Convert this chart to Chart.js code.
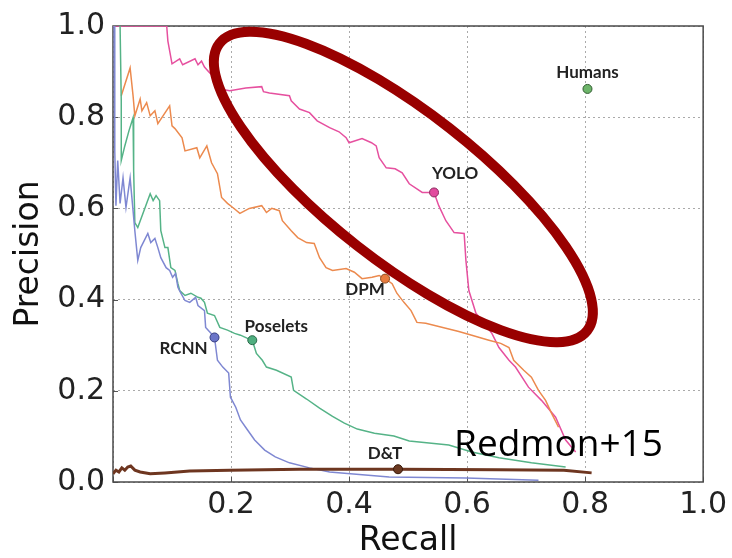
<!DOCTYPE html>
<html><head><meta charset="utf-8">
<script src="https://cdn.jsdelivr.net/npm/chart.js@4.4.0/dist/chart.umd.min.js"></script>
<style>html,body{margin:0;padding:0;background:#fff;}#wrap{width:732px;height:558px;}</style>
</head><body><div id="wrap"><canvas id="c" width="732" height="558"></canvas></div>
<script>
// ---- data (recall, precision) ----
const xTickLabels = ['', '0.2', '0.4', '0.6', '0.8', '1.0'];
const yTickLabels = ['0.0', '0.2', '0.4', '0.6', '0.8', '1.0'];

const yoloCurve = [[0.000,1.000],[0.091,1.000],[0.093,0.967],[0.100,0.917],[0.113,0.928],[0.118,0.915],[0.139,0.928],[0.144,0.915],[0.150,0.923],[0.155,0.910],[0.164,0.897],[0.171,0.888],[0.177,0.869],[0.188,0.860],[0.198,0.858],[0.225,0.864],[0.252,0.867],[0.255,0.856],[0.265,0.853],[0.299,0.847],[0.302,0.836],[0.316,0.818],[0.333,0.810],[0.346,0.792],[0.367,0.777],[0.383,0.768],[0.395,0.755],[0.400,0.744],[0.422,0.753],[0.438,0.744],[0.446,0.737],[0.451,0.711],[0.463,0.689],[0.478,0.687],[0.490,0.678],[0.502,0.654],[0.524,0.635],[0.544,0.635],[0.552,0.606],[0.564,0.573],[0.578,0.547],[0.595,0.545],[0.598,0.486],[0.603,0.420],[0.615,0.370],[0.625,0.354],[0.642,0.326],[0.654,0.295],[0.671,0.267],[0.682,0.252],[0.704,0.208],[0.726,0.179],[0.750,0.142],[0.767,0.092],[0.784,0.066]];

const dpmCurve = [[0.014,0.847],[0.029,0.908],[0.034,0.847],[0.037,0.803],[0.046,0.840],[0.049,0.814],[0.057,0.832],[0.063,0.803],[0.071,0.814],[0.076,0.786],[0.096,0.825],[0.100,0.781],[0.105,0.775],[0.117,0.755],[0.122,0.726],[0.142,0.733],[0.147,0.711],[0.159,0.737],[0.167,0.700],[0.177,0.676],[0.184,0.624],[0.194,0.611],[0.203,0.602],[0.215,0.589],[0.231,0.600],[0.252,0.606],[0.260,0.591],[0.269,0.600],[0.282,0.595],[0.287,0.573],[0.302,0.551],[0.313,0.536],[0.328,0.525],[0.341,0.523],[0.350,0.492],[0.361,0.470],[0.372,0.464],[0.395,0.468],[0.409,0.460],[0.422,0.446],[0.439,0.449],[0.451,0.453],[0.461,0.446],[0.473,0.435],[0.481,0.414],[0.493,0.394],[0.505,0.376],[0.515,0.350],[0.530,0.348],[0.552,0.341],[0.586,0.330],[0.608,0.322],[0.637,0.311],[0.657,0.304],[0.671,0.295],[0.679,0.267],[0.696,0.245],[0.709,0.230],[0.721,0.201],[0.733,0.179],[0.743,0.151],[0.755,0.120]];

const poseletsCurve = [[0.012,1.000],[0.014,0.836],[0.014,0.705],[0.020,0.737],[0.027,0.770],[0.034,0.799],[0.035,0.683],[0.037,0.569],[0.042,0.558],[0.063,0.632],[0.068,0.617],[0.073,0.628],[0.079,0.617],[0.081,0.551],[0.088,0.514],[0.093,0.514],[0.098,0.470],[0.105,0.464],[0.110,0.435],[0.113,0.420],[0.122,0.409],[0.132,0.414],[0.144,0.405],[0.149,0.403],[0.155,0.394],[0.160,0.370],[0.172,0.365],[0.181,0.339],[0.194,0.333],[0.206,0.326],[0.216,0.322],[0.228,0.315],[0.236,0.311],[0.243,0.282],[0.253,0.267],[0.260,0.252],[0.277,0.245],[0.302,0.230],[0.306,0.201],[0.328,0.182],[0.350,0.162],[0.372,0.144],[0.392,0.129],[0.414,0.116],[0.443,0.107],[0.476,0.101],[0.502,0.090],[0.569,0.081],[0.608,0.066],[0.654,0.053],[0.709,0.042],[0.767,0.033]];

const rcnnCurve = [[0.002,1.000],[0.003,0.726],[0.005,0.606],[0.008,0.705],[0.012,0.611],[0.017,0.667],[0.022,0.602],[0.029,0.667],[0.034,0.595],[0.037,0.551],[0.042,0.486],[0.047,0.514],[0.059,0.545],[0.064,0.525],[0.071,0.534],[0.076,0.514],[0.081,0.492],[0.090,0.470],[0.096,0.464],[0.101,0.449],[0.106,0.457],[0.110,0.427],[0.115,0.414],[0.122,0.398],[0.130,0.394],[0.140,0.405],[0.144,0.387],[0.155,0.376],[0.157,0.339],[0.166,0.326],[0.172,0.317],[0.177,0.267],[0.186,0.252],[0.196,0.239],[0.199,0.186],[0.208,0.164],[0.216,0.136],[0.228,0.114],[0.240,0.092],[0.257,0.070],[0.275,0.055],[0.299,0.042],[0.333,0.031],[0.367,0.022],[0.468,0.011],[0.598,0.009],[0.721,0.004]];

const dtCurve = [[0.000,0.018],[0.005,0.026],[0.010,0.022],[0.015,0.031],[0.020,0.026],[0.025,0.033],[0.030,0.035],[0.037,0.026],[0.046,0.022],[0.063,0.018],[0.088,0.020],[0.130,0.024],[0.198,0.026],[0.316,0.028],[0.483,0.028],[0.654,0.027],[0.764,0.026],[0.811,0.020]];

const markerNames = ['Humans', 'YOLO', 'DPM', 'Poselets', 'RCNN', 'D&T'];
const markerRecall = [0.804, 0.544, 0.461, 0.236, 0.172, 0.483];
const markerPrecision = [0.862, 0.635, 0.446, 0.311, 0.317, 0.028];

const ellipseCenter = [0.492, 0.647];
const noteText = 'Redmon+15';
const notePos = [0.578, 0.057];

// ---- styles ----
const markerFill = ['#6db56a', '#e24a9e', '#e87c3e', '#4fae7f', '#6a74c8', '#6b3a22'];
const markerEdge = ['#2e5a2e', '#8a2a5e', '#8a4a20', '#2a6a4a', '#353c80', '#3a1a0a'];
const labelOffset = [[0, -16], [21, -19], [-20, 11], [24, -14], [-31, 11], [-13, -16]];

const toPts = arr => arr.map(d => ({x: d[0], y: d[1]}));
const lineDS = (label, data, color, w) => ({
  label, data: toPts(data), showLine: true, borderColor: color, backgroundColor: color,
  borderWidth: w, pointRadius: 0, pointHoverRadius: 0, tension: 0, order: 2
});

const overlay = {
  id: 'overlay',
  beforeDatasetsDraw(chart) {
    const {ctx, chartArea: a, scales: {x, y}} = chart;
    ctx.save();
    ctx.strokeStyle = '#555'; ctx.lineWidth = 1;
    x.ticks.forEach(t => { const px = Math.round(x.getPixelForValue(t.value)) + 0.5;
      ctx.beginPath(); ctx.moveTo(px, a.bottom); ctx.lineTo(px, a.bottom - 5); ctx.stroke(); });
    y.ticks.forEach(t => { const py = Math.round(y.getPixelForValue(t.value)) + 0.5;
      ctx.beginPath(); ctx.moveTo(a.left, py); ctx.lineTo(a.left + 5, py); ctx.stroke(); });
    ctx.strokeStyle = '#4a4a4a'; ctx.lineWidth = 1.5;
    ctx.strokeRect(a.left, a.top, a.right - a.left, a.bottom - a.top);
    ctx.restore();
  },
  afterDraw(chart) {
    const {ctx, chartArea: a, scales: {x, y}} = chart;
    ctx.save();
    const meta = chart.getDatasetMeta(chart.data.datasets.length - 1);
    ctx.font = 'bold 17px Lato';
    ctx.fillStyle = '#222';
    ctx.textAlign = 'center'; ctx.textBaseline = 'middle';
    meta.data.forEach((el, i) => {
      ctx.fillText(markerNames[i], el.x + labelOffset[i][0], el.y + labelOffset[i][1]);
    });
    const k = (a.right - a.left) / 592;
    const cx = x.getPixelForValue(ellipseCenter[0]);
    const cy = y.getPixelForValue(ellipseCenter[1]);
    ctx.beginPath();
    ctx.ellipse(cx, cy, 234 * k, 75 * k, 38 * Math.PI / 180, 0, 2 * Math.PI);
    ctx.strokeStyle = '#990000'; ctx.lineWidth = 10; ctx.stroke();
    ctx.font = '37px "Open Sans"';
    ctx.fillStyle = '#000'; ctx.textAlign = 'left'; ctx.textBaseline = 'alphabetic';
    ctx.fillText(noteText, x.getPixelForValue(notePos[0]), y.getPixelForValue(notePos[1]));
    ctx.restore();
  }
};

new Chart(document.getElementById('c'), {
  type: 'scatter',
  data: {
    datasets: [
      lineDS('D&T', dtCurve, '#6e3620', 3),
      lineDS('RCNN', rcnnCurve, '#7f88d2', 1.5),
      lineDS('Poselets', poseletsCurve, '#55b387', 1.5),
      lineDS('DPM', dpmCurve, '#ec8a4e', 1.5),
      lineDS('YOLO', yoloCurve, '#e6509f', 1.5),
      {
        label: 'markers',
        data: markerRecall.map((r, i) => ({x: r, y: markerPrecision[i]})),
        pointRadius: 4.5, pointHoverRadius: 4.5, pointBorderWidth: 1,
        pointBackgroundColor: markerFill, pointBorderColor: markerEdge,
        showLine: false, order: 1, clip: false
      }
    ]
  },
  options: {
    responsive: false, animation: false, devicePixelRatio: 1,
    layout: {padding: {left: 0, right: 27, top: 25, bottom: 0}},
    plugins: {legend: {display: false}, tooltip: {enabled: false}},
    events: [],
    scales: {
      x: {
        type: 'linear', min: 0, max: 1,
        afterBuildTicks: s => { s.ticks = xTickLabels.map((_, i) => ({value: i * 0.2})); },
        afterFit: s => { s.height = 76; },
        ticks: {
          callback: (v, i) => xTickLabels[i],
          font: {family: 'DejaVu Sans', size: 30, lineHeight: 1.2}, color: '#222', padding: 5, maxRotation: 0
        },
        grid: {color: '#aaaaaa', lineWidth: 1, drawTicks: false},
        border: {display: false, dash: [2, 3]},
        title: {display: true, text: 'Recall', color: '#111',
          font: {family: 'DejaVu Sans', size: 33, lineHeight: 1}, padding: {top: 0, bottom: 0}}
      },
      y: {
        type: 'linear', min: 0, max: 1,
        afterBuildTicks: s => { s.ticks = yTickLabels.map((_, i) => ({value: i * 0.2})); },
        afterFit: s => { s.width = 113; },
        ticks: {
          callback: (v, i) => yTickLabels[i],
          font: {family: 'DejaVu Sans', size: 30, lineHeight: 1.2}, color: '#222', padding: 8
        },
        grid: {color: '#aaaaaa', lineWidth: 1, drawTicks: false},
        border: {display: false, dash: [2, 3]},
        title: {display: true, text: 'Precision', color: '#111',
          font: {family: 'DejaVu Sans', size: 33, lineHeight: 1.2}, padding: {top: 10, bottom: 0}}
      }
    }
  },
  plugins: [overlay]
});
</script></body></html>
